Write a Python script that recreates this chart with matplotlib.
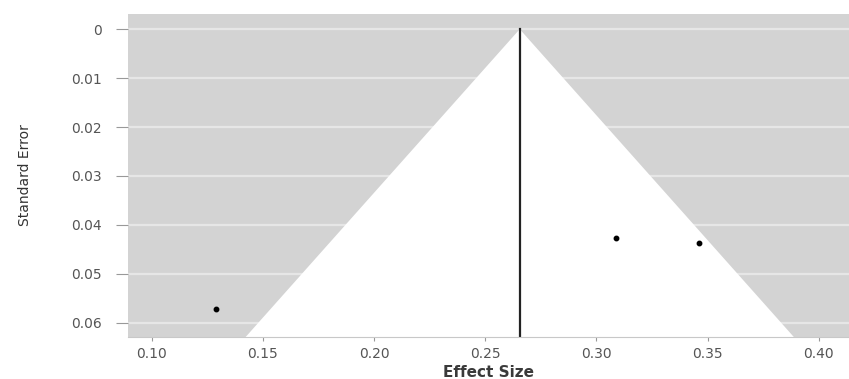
import numpy as np
from matplotlib import pyplot as plt

# study effects and standard errors
effect = [0.129, 0.309, 0.346]
se = [0.0572, 0.0427, 0.0437]
pooled = 0.2655
xticks = [0.10, 0.15, 0.20, 0.25, 0.30, 0.35, 0.40]
yticks = [0, 0.01, 0.02, 0.03, 0.04, 0.05, 0.06]
yticklabels = ['0', '0.01', '0.02', '0.03', '0.04', '0.05', '0.06']

fig = plt.figure(figsize=(8.49, 3.79), dpi=100)
ax = fig.add_axes([128/849, 1-337/379, (849-128)/849, (337-14)/379])
ax.set_facecolor('#d3d3d3')

xlim = (0.0893, 0.4136)
ylim = (0.0629, -0.0031)

for t in yticks:
    ax.axhline(t, color='#e6e6e6', lw=1.6, zorder=1)

# pseudo confidence region (white funnel)
ymax = 0.08
tri_x = [pooled - 1.96*ymax, pooled, pooled + 1.96*ymax]
tri_y = [ymax, 0, ymax]
ax.fill(tri_x, tri_y, color='white', zorder=2, lw=0)

ax.axvline(pooled, ymin=0, ymax=(ylim[0]-0)/(ylim[0]-ylim[1]), color='#222222', lw=1.6, zorder=3)
ax.plot(effect, se, 'o', color='black', ms=3.2, mec='black', zorder=4)

ax.set_xlim(xlim)
ax.set_ylim(ylim)
ax.set_xticks(xticks)
ax.set_xticklabels(['%.2f' % v for v in xticks])
ax.set_yticks(yticks)
ax.set_yticklabels(yticklabels)
for s in ax.spines.values():
    s.set_visible(False)
ax.spines['bottom'].set_visible(True)
ax.spines['bottom'].set_color('#c8c8c8')
ax.spines['bottom'].set_linewidth(0.8)
ax.spines['bottom'].set_zorder(5)

ax.tick_params(colors='#999999', labelcolor='#555555', labelsize=10, width=0.8)
ax.tick_params(axis='y', length=9, pad=10)
ax.tick_params(axis='x', length=3, pad=4)
ax.set_xlabel('Effect Size', fontsize=11, fontweight='bold', color='#3a3a3a', labelpad=3)
ax.set_ylabel('Standard Error', fontsize=10, color='#333333')
ax.yaxis.set_label_coords(-(128-32)/721, 0.5)

plt.savefig('out.png', dpi=100)
